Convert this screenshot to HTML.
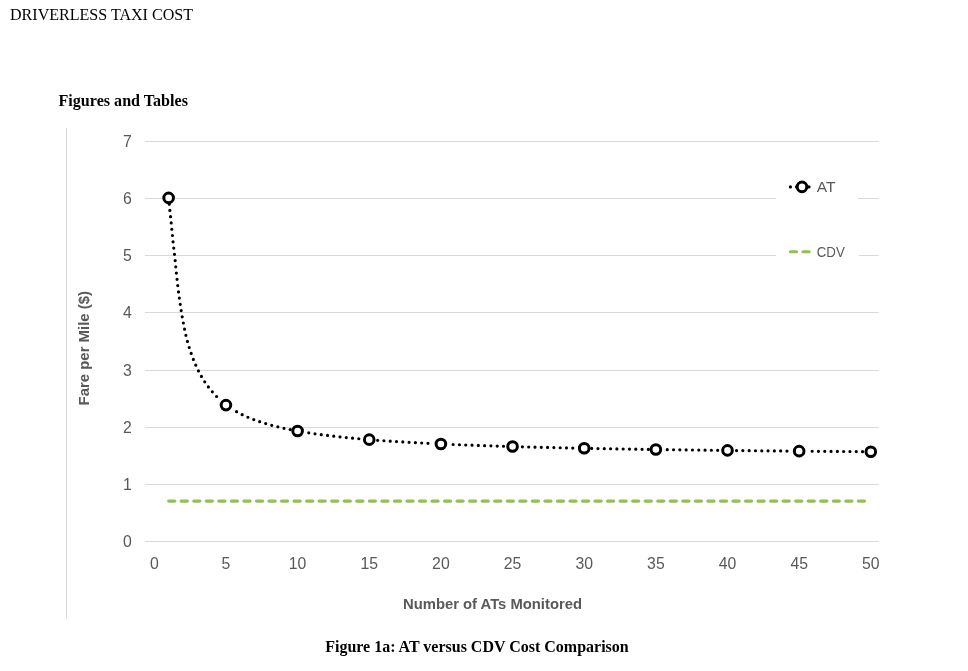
<!DOCTYPE html>
<html><head><meta charset="utf-8"><title>Driverless Taxi Cost</title>
<style>
html,body{margin:0;padding:0;background:#fff;}
body{width:968px;height:671px;overflow:hidden;}
svg{display:block;}
.ax{font-family:"Liberation Sans",sans-serif;font-size:15.8px;fill:#595959;}
.lg{font-family:"Liberation Sans",sans-serif;font-size:15.5px;fill:#595959;}
.tt{font-family:"Liberation Sans",sans-serif;font-size:15px;font-weight:bold;fill:#595959;}
.doc{font-family:"Liberation Serif",serif;font-size:16px;fill:#000;}
.docb{font-family:"Liberation Serif",serif;font-size:16px;font-weight:bold;fill:#000;}
</style></head><body>
<svg width="968" height="671" viewBox="0 0 968 671">
<line x1="145.0" y1="541.5" x2="878.5" y2="541.5" stroke="#d9d9d9" stroke-width="1"/>
<line x1="145.0" y1="484.5" x2="878.5" y2="484.5" stroke="#d9d9d9" stroke-width="1"/>
<line x1="145.0" y1="427.5" x2="878.5" y2="427.5" stroke="#d9d9d9" stroke-width="1"/>
<line x1="145.0" y1="370.5" x2="878.5" y2="370.5" stroke="#d9d9d9" stroke-width="1"/>
<line x1="145.0" y1="312.5" x2="878.5" y2="312.5" stroke="#d9d9d9" stroke-width="1"/>
<line x1="145.0" y1="255.5" x2="878.5" y2="255.5" stroke="#d9d9d9" stroke-width="1"/>
<line x1="145.0" y1="198.5" x2="878.5" y2="198.5" stroke="#d9d9d9" stroke-width="1"/>
<line x1="145.0" y1="141.5" x2="878.5" y2="141.5" stroke="#d9d9d9" stroke-width="1"/>
<line x1="66.5" y1="128" x2="66.5" y2="618.5" stroke="#d9d9d9" stroke-width="1"/>
<text x="131.8" y="546.8" text-anchor="end" class="ax">0</text>
<text x="131.8" y="489.8" text-anchor="end" class="ax">1</text>
<text x="131.8" y="432.8" text-anchor="end" class="ax">2</text>
<text x="131.8" y="375.8" text-anchor="end" class="ax">3</text>
<text x="131.8" y="317.8" text-anchor="end" class="ax">4</text>
<text x="131.8" y="260.8" text-anchor="end" class="ax">5</text>
<text x="131.8" y="203.8" text-anchor="end" class="ax">6</text>
<text x="131.8" y="146.8" text-anchor="end" class="ax">7</text>
<text x="154.3" y="569.1" text-anchor="middle" class="ax">0</text>
<text x="226.0" y="569.1" text-anchor="middle" class="ax">5</text>
<text x="297.6" y="569.1" text-anchor="middle" class="ax">10</text>
<text x="369.2" y="569.1" text-anchor="middle" class="ax">15</text>
<text x="440.9" y="569.1" text-anchor="middle" class="ax">20</text>
<text x="512.5" y="569.1" text-anchor="middle" class="ax">25</text>
<text x="584.2" y="569.1" text-anchor="middle" class="ax">30</text>
<text x="655.9" y="569.1" text-anchor="middle" class="ax">35</text>
<text x="727.5" y="569.1" text-anchor="middle" class="ax">40</text>
<text x="799.2" y="569.1" text-anchor="middle" class="ax">45</text>
<text x="870.8" y="569.1" text-anchor="middle" class="ax">50</text>
<line x1="168.63" y1="501.1" x2="866" y2="501.1" stroke="#93c24b" stroke-width="3.1" stroke-dasharray="6.2 6.34" stroke-linecap="round"/>
<path d="M168.63,197.90h0M169.23,204.17h0M169.87,210.44h0M170.54,216.70h0M171.20,222.97h0M171.79,229.24h0M172.41,235.51h0M173.07,241.78h0M173.77,248.04h0M174.51,254.29h0M175.18,260.56h0M175.76,266.83h0M176.38,273.10h0M177.05,279.36h0M177.76,285.62h0M178.52,291.88h0M179.34,298.12h0M180.23,304.36h0M181.18,310.59h0M182.21,316.80h0M183.34,323.00h0M184.57,329.18h0M185.91,335.33h0M187.45,341.44h0M189.22,347.49h0M191.19,353.47h0M193.36,359.39h0M195.78,365.20h0M198.46,370.90h0M201.44,376.45h0M204.74,381.82h0M208.37,386.97h0M212.35,391.85h0M216.60,396.50h0M236.58,411.72h0M242.15,414.65h0M247.90,417.25h0M253.75,419.58h0M259.69,421.68h0M265.69,423.58h0M271.75,425.30h0M277.86,426.86h0M283.99,428.28h0M290.16,429.58h0M308.77,432.87h0M315.00,433.80h0M321.24,434.67h0M327.49,435.47h0M333.74,436.22h0M340.00,436.91h0M346.27,437.57h0M352.54,438.18h0M358.81,438.75h0M377.65,440.28h0M383.94,440.74h0M390.22,441.17h0M396.51,441.58h0M402.80,441.96h0M409.09,442.33h0M415.38,442.68h0M421.67,443.02h0M427.96,443.34h0M453.13,444.48h0M459.43,444.74h0M465.72,444.98h0M472.02,445.22h0M478.31,445.45h0M484.61,445.66h0M490.91,445.87h0M497.20,446.08h0M503.50,446.27h0M522.39,446.82h0M528.69,446.99h0M534.99,447.15h0M541.29,447.31h0M547.58,447.46h0M553.88,447.61h0M560.18,447.76h0M566.48,447.90h0M572.78,448.03h0M591.67,448.41h0M597.97,448.53h0M604.27,448.65h0M610.57,448.77h0M616.87,448.88h0M623.17,448.98h0M629.47,449.09h0M635.77,449.19h0M642.07,449.29h0M648.37,449.39h0M667.26,449.66h0M673.56,449.75h0M679.86,449.84h0M686.16,449.92h0M692.46,450.00h0M698.76,450.08h0M705.06,450.16h0M711.36,450.24h0M717.66,450.31h0M736.56,450.53h0M742.86,450.59h0M749.16,450.66h0M755.46,450.73h0M761.76,450.79h0M768.06,450.85h0M774.36,450.91h0M780.66,450.97h0M786.96,451.03h0M812.15,451.26h0M818.45,451.31h0M824.75,451.36h0M831.05,451.42h0M837.35,451.47h0M843.65,451.52h0M849.95,451.56h0M856.25,451.61h0M862.55,451.66h0" fill="none" stroke="#000" stroke-width="3.2" stroke-linecap="round"/>
<circle cx="168.63" cy="197.90" r="4.8" fill="#fff" stroke="#000" stroke-width="3"/>
<circle cx="225.95" cy="405.10" r="4.8" fill="#fff" stroke="#000" stroke-width="3"/>
<circle cx="297.60" cy="431.00" r="4.8" fill="#fff" stroke="#000" stroke-width="3"/>
<circle cx="369.25" cy="439.63" r="4.8" fill="#fff" stroke="#000" stroke-width="3"/>
<circle cx="440.90" cy="443.95" r="4.8" fill="#fff" stroke="#000" stroke-width="3"/>
<circle cx="512.55" cy="446.54" r="4.8" fill="#fff" stroke="#000" stroke-width="3"/>
<circle cx="584.20" cy="448.27" r="4.8" fill="#fff" stroke="#000" stroke-width="3"/>
<circle cx="655.85" cy="449.50" r="4.8" fill="#fff" stroke="#000" stroke-width="3"/>
<circle cx="727.50" cy="450.42" r="4.8" fill="#fff" stroke="#000" stroke-width="3"/>
<circle cx="799.15" cy="451.14" r="4.8" fill="#fff" stroke="#000" stroke-width="3"/>
<circle cx="870.80" cy="451.72" r="4.8" fill="#fff" stroke="#000" stroke-width="3"/>
<rect x="776" y="170" width="82" height="34" fill="#fff"/>
<rect x="776" y="236" width="83" height="30" fill="#fff"/>
<line x1="790.4" y1="186.9" x2="812" y2="186.9" stroke="#000" stroke-width="3.2" stroke-dasharray="0 6.2" stroke-linecap="round"/>
<circle cx="802" cy="186.9" r="4.8" fill="#fff" stroke="#000" stroke-width="3"/>
<text x="816.8" y="191.6" class="lg">AT</text>
<line x1="790.4" y1="251.8" x2="812" y2="251.8" stroke="#93c24b" stroke-width="3.1" stroke-dasharray="6.2 6.34" stroke-linecap="round"/>
<text x="816.8" y="256.6" class="lg" textLength="28" lengthAdjust="spacingAndGlyphs">CDV</text>
<text x="492.5" y="609.4" text-anchor="middle" class="tt" textLength="179" lengthAdjust="spacingAndGlyphs">Number of ATs Monitored</text>
<text transform="translate(88.6,348.2) rotate(-90)" text-anchor="middle" class="tt" textLength="114.5" lengthAdjust="spacingAndGlyphs">Fare per Mile ($)</text>
<text x="10" y="19.6" class="doc" textLength="183" lengthAdjust="spacingAndGlyphs">DRIVERLESS TAXI COST</text>
<text x="58.5" y="105.9" class="docb" textLength="129.4" lengthAdjust="spacingAndGlyphs">Figures and Tables</text>
<text x="325.2" y="652" class="docb" textLength="303.5" lengthAdjust="spacingAndGlyphs">Figure 1a: AT versus CDV Cost Comparison</text>
</svg>
</body></html>
